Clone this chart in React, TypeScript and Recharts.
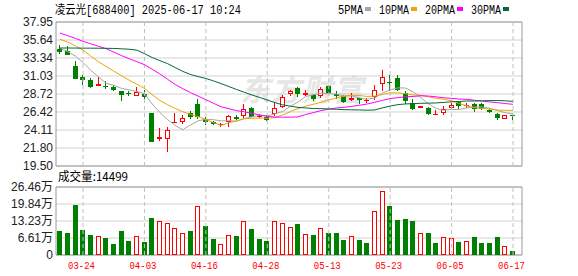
import React from 'react';
import {
  ComposedChart,
  Bar,
  Line,
  XAxis,
  YAxis,
  CartesianGrid,
  ReferenceArea,
  ReferenceLine,
} from 'recharts';

// ---- data (凌云光 688400, daily) ----
const dates = [
  '03-19', '03-20', '03-21', '03-24', '03-25', '03-26', '03-27', '03-28', '03-31', '04-01',
  '04-02', '04-03', '04-07', '04-08', '04-09', '04-10', '04-11', '04-14', '04-15', '04-16',
  '04-17', '04-18', '04-21', '04-22', '04-23', '04-24', '04-25', '04-28', '04-29', '04-30',
  '05-06', '05-07', '05-08', '05-09', '05-12', '05-13', '05-14', '05-15', '05-16', '05-19',
  '05-20', '05-21', '05-22', '05-23', '05-26', '05-27', '05-28', '05-29', '05-30', '06-03',
  '06-04', '06-05', '06-06', '06-09', '06-10', '06-11', '06-12', '06-13', '06-16', '06-17',
];

const open = [
  34.53, 34.27, 32.35, 30.86, 30.52, 29.71, 29.79, 29.66, 29.07, 28.85,
  28.51, 28.73, 26.25, 22.96, 22.96, 25.05, 25.10, 26.25, 27.44, 25.52,
  25.10, 24.72, 25.14, 25.82, 25.87, 26.93, 25.78, 25.82, 26.16, 27.06,
  28.76, 29.49, 28.64, 28.64, 28.43, 29.75, 28.73, 28.43, 27.96, 28.17,
  27.87, 28.34, 30.01, 30.22, 30.78, 28.85, 27.57, 26.93, 26.93, 26.16,
  26.25, 26.93, 27.66, 27.15, 27.44, 27.44, 26.68, 26.16, 25.48, 26.03,
];
const high = [
  35.04, 34.84, 32.91, 31.16, 30.78, 30.87, 30.35, 29.92, 29.15, 29.15,
  29.58, 29.29, 26.30, 24.37, 24.54, 26.25, 26.03, 26.51, 28.12, 25.74,
  25.31, 25.01, 25.99, 25.99, 27.48, 27.06, 26.16, 25.99, 27.57, 28.64,
  29.24, 29.66, 29.28, 28.76, 29.66, 29.92, 29.07, 28.64, 28.81, 28.21,
  28.21, 29.92, 31.84, 31.16, 31.20, 29.15, 28.08, 27.19, 27.02, 26.71,
  27.15, 27.57, 27.79, 27.57, 27.53, 27.57, 26.77, 26.25, 25.99, 26.05,
];
const low = [
  33.89, 33.70, 30.65, 29.84, 29.49, 29.70, 29.40, 29.15, 27.87, 28.51,
  28.50, 28.10, 22.60, 22.74, 21.29, 25.00, 24.88, 25.56, 25.56, 24.72,
  24.79, 24.54, 24.50, 25.43, 25.65, 25.74, 25.65, 25.23, 25.87, 26.93,
  28.43, 28.38, 28.43, 27.79, 28.25, 28.76, 28.12, 27.53, 27.79, 27.48,
  27.57, 28.00, 29.07, 29.11, 29.07, 27.44, 26.68, 26.93, 26.07, 26.16,
  26.07, 26.71, 26.80, 26.93, 26.38, 26.68, 26.33, 25.45, 25.48, 25.40,
];
const close = [
  34.11, 33.76, 30.69, 30.56, 29.66, 30.01, 29.64, 29.28, 28.64, 28.69,
  28.94, 28.34, 22.63, 23.22, 24.11, 25.18, 25.61, 25.74, 25.82, 25.10,
  24.88, 24.84, 25.87, 25.56, 26.84, 25.82, 25.91, 25.43, 26.93, 28.30,
  29.15, 28.76, 28.85, 28.08, 29.33, 28.85, 28.47, 27.66, 28.17, 27.96,
  28.00, 29.24, 30.87, 30.17, 29.28, 27.87, 26.80, 27.19, 26.20, 26.22,
  26.80, 27.32, 27.15, 27.28, 26.80, 26.80, 26.42, 25.65, 25.99, 25.95,
];

const ma5 = [
  34.58, 34.17, 33.59, 32.76, 31.76, 30.94, 30.11, 29.83, 29.45, 29.25,
  29.04, 28.78, 27.45, 26.36, 25.45, 24.70, 24.15, 24.77, 25.29, 25.49,
  25.43, 25.28, 25.30, 25.25, 25.60, 25.79, 26.00, 25.91, 26.19, 26.48,
  27.14, 27.71, 28.40, 28.63, 28.83, 28.77, 28.72, 28.48, 28.50, 28.22,
  28.05, 28.21, 28.85, 29.25, 29.51, 29.49, 29.00, 28.26, 27.47, 26.86,
  26.64, 26.75, 26.74, 26.95, 27.07, 27.07, 26.89, 26.59, 26.33, 26.16,
];
const ma10 = [
  35.73, 35.39, 34.88, 34.36, 33.59, 32.86, 32.25, 31.65, 31.08, 30.50,
  29.99, 29.45, 28.64, 27.91, 27.35, 26.87, 26.46, 26.11, 25.83, 25.47,
  25.06, 24.71, 25.04, 25.27, 25.54, 25.61, 25.64, 25.61, 25.72, 26.04,
  26.47, 26.86, 27.16, 27.41, 27.66, 27.96, 28.22, 28.44, 28.56, 28.53,
  28.41, 28.46, 28.66, 28.87, 28.87, 28.77, 28.60, 28.56, 28.36, 28.18,
  28.06, 27.87, 27.50, 27.21, 26.96, 26.86, 26.82, 26.66, 26.64, 26.62,
];
const ma20 = [
  36.54, 36.20, 35.85, 35.48, 35.15, 34.85, 34.53, 34.10, 33.65, 33.25,
  32.87, 32.48, 31.90, 31.30, 30.62, 29.95, 29.40, 28.90, 28.45, 27.99,
  27.53, 27.08, 26.84, 26.59, 26.45, 26.24, 26.05, 25.86, 25.77, 25.75,
  25.76, 25.79, 26.10, 26.34, 26.60, 26.78, 26.93, 27.02, 27.14, 27.28,
  27.44, 27.66, 27.91, 28.14, 28.26, 28.36, 28.41, 28.50, 28.46, 28.36,
  28.24, 28.17, 28.08, 28.04, 27.92, 27.81, 27.71, 27.61, 27.50, 27.40,
];
const ma30 = [
  34.62, 34.62, 34.61, 34.60, 34.60, 34.59, 34.58, 34.56, 34.52, 34.46,
  34.35, 33.90, 33.40, 33.00, 32.62, 32.12, 31.62, 31.22, 30.95, 30.72,
  30.40, 30.05, 29.68, 29.30, 28.95, 28.60, 28.28, 27.95, 27.62, 27.34,
  27.17, 27.01, 26.94, 26.86, 26.85, 26.81, 26.77, 26.72, 26.70, 26.68,
  26.65, 26.68, 26.95, 27.18, 27.36, 27.45, 27.49, 27.53, 27.55, 27.58,
  27.65, 27.73, 27.77, 27.83, 27.83, 27.86, 27.88, 27.89, 27.85, 27.78,
];

// 成交量 (hands)
const volume = [
  93400, 85600, 194600, 97300, 77800, 73900, 66100, 42800, 93400, 54500,
  73900, 50600, 144000, 131000, 123000, 105000, 85600, 93400, 190700, 112800,
  62300, 41600, 76600, 73900, 131000, 101200, 62300, 54500, 131000, 123300,
  109000, 120600, 80500, 77800, 105000, 85600, 85600, 58400, 73900, 58400,
  46700, 171200, 249000, 190700, 136200, 140000, 132300, 84400, 85600, 46700,
  70000, 66100, 50600, 54500, 70000, 46700, 46700, 70000, 35000, 14499,
];
// 1 = red (up) volume bar, 0 = green
const volUp = [
  0, 0, 0, 0, 0, 1, 0, 0, 0, 0,
  1, 0, 0, 1, 1, 1, 1, 0, 1, 0,
  0, 1, 1, 0, 1, 0, 0, 0, 1, 1,
  1, 0, 1, 0, 1, 0, 0, 0, 1, 0,
  0, 1, 1, 0, 0, 0, 0, 1, 0, 0,
  1, 1, 0, 1, 0, 0, 0, 0, 1, 0,
];

const priceTicks = [19.5, 21.8, 24.11, 26.42, 28.72, 31.03, 33.34, 35.64, 37.95];
const volTicks = [0, 66100, 132300, 198400, 264600];
const xTickLabels = ['03-24', '04-03', '04-16', '04-28', '05-13', '05-23', '06-05', '06-17'];

const legendItems = [
  { label: '5PMA', color: '#a6a6a6' },
  { label: '10PMA', color: '#f0a30a' },
  { label: '20PMA', color: '#ff00ff' },
  { label: '30PMA', color: '#006b32' },
];

// ---- styles ----
const RED = '#ff0000';
const GREEN = '#008000';
const GRID = '#d2d2d2';
const VGRID = '#c0c0c0';
const BORDER = '#9a9a9a';
const X_DOMAIN: [number, number] = [-0.52, 60.17];
const W = 578;
const tickFont = { fontSize: 12, fill: '#222', fontFamily: "'Liberation Sans', Arial, 'Noto Sans CJK SC', sans-serif" };

const xTicks = xTickLabels.map((d) => dates.indexOf(d));

const data = dates.map((d, i) => ({
  i,
  date: d,
  o: open[i],
  h: high[i],
  l: low[i],
  c: close[i],
  range: [low[i], high[i]],
  ma5: ma5[i],
  ma10: ma10[i],
  ma20: ma20[i],
  ma30: ma30[i],
  v: volume[i],
  up: volUp[i] === 1,
}));

function Candle(props: any) {
  const { x, y, width, height, payload } = props;
  if (x == null || y == null || !payload) return null;
  const { o, h, l, c } = payload;
  const span = h - l || 1;
  const toY = (v: number) => y + ((h - v) / span) * height;
  const cx = Math.floor(x + width / 2);
  const hy = Math.round(toY(h));
  const ly = Math.round(toY(l));
  const top = Math.round(toY(Math.max(o, c)));
  let bot = Math.round(toY(Math.min(o, c)));
  if (bot - top < 1) bot = top + 1;

  if (c < o) {
    return (
      <g>
        <line x1={cx + 0.5} x2={cx + 0.5} y1={hy} y2={Math.max(ly, bot)} stroke={GREEN} />
        <rect x={cx - 2} y={top} width={5} height={bot - top} fill={GREEN} />
      </g>
    );
  }
  if (bot - top < 3) {
    return (
      <g>
        <line x1={cx + 0.5} x2={cx + 0.5} y1={hy} y2={Math.max(ly, bot)} stroke={RED} />
        <rect x={cx - 2} y={top} width={5} height={bot - top} fill={RED} />
      </g>
    );
  }
  return (
    <g>
      <line x1={cx + 0.5} x2={cx + 0.5} y1={hy} y2={top} stroke={RED} />
      <line x1={cx + 0.5} x2={cx + 0.5} y1={bot} y2={ly} stroke={RED} />
      <rect x={cx - 1.5} y={top + 0.5} width={4} height={bot - top - 1} fill="#fff" stroke={RED} />
    </g>
  );
}

function VolBar(props: any) {
  const { x, y, width, height, payload } = props;
  if (x == null || y == null || !payload) return null;
  const cx = Math.floor(x + width / 2);
  const bottom = Math.round(y + height);
  const top = Math.round(y);
  if (payload.up && bottom - top >= 3) {
    return <rect x={cx - 1.5} y={top + 0.5} width={4} height={bottom - top - 1} fill="#fff" stroke={RED} />;
  }
  return <rect x={cx - 2} y={top} width={5} height={Math.max(1, bottom - top)} fill={payload.up ? RED : GREEN} />;
}

function DateTick(props: any) {
  const { x, y, payload } = props;
  return (
    <text
      x={x - 1.5}
      y={y + 14}
      textAnchor="middle"
      fontSize={11}
      fill={RED}
      fontFamily="'Liberation Mono', 'DejaVu Sans Mono', monospace"
      textLength={27}
      lengthAdjust="spacingAndGlyphs"
    >
      {dates[payload.value]}
    </text>
  );
}

const fmtVol = (v: number) => (v === 0 ? '0' : `${(v / 10000).toFixed(2)}万`);

export default function App() {
  const legendX = [338, 379, 425, 471];
  const legendW = [25, 30, 30, 30];

  return (
    <div style={{ position: 'absolute', left: 0, top: 0, width: W, height: 276, background: '#fff', overflow: 'hidden' }}>
      {/* watermark */}
      <div
        style={{
          position: 'absolute',
          left: 240,
          top: 66,
          fontSize: 30,
          fontWeight: 700,
          color: '#e6e6e6',
          fontFamily: "'Noto Sans CJK SC', sans-serif",
          letterSpacing: 1,
          fontStyle: 'italic',
        }}
      >
        东方财富
      </div>

      {/* title, legend, volume caption */}
      <svg width={W} height={276} style={{ position: 'absolute', left: 0, top: 0 }}>
        <text
          x={55}
          y={13.5}
          fontSize={12}
          fill="#000"
          fontFamily="'Liberation Mono', 'Noto Sans CJK SC', monospace"
          textLength={186}
          lengthAdjust="spacingAndGlyphs"
        >
          凌云光[688400] 2025-06-17 10:24
        </text>
        {legendItems.map((it, k) => (
          <g key={it.label}>
            <text
              x={legendX[k]}
              y={13.5}
              fontSize={12}
              fill="#000"
              fontFamily="'Liberation Mono', monospace"
              textLength={legendW[k]}
              lengthAdjust="spacingAndGlyphs"
            >
              {it.label}
            </text>
            <rect x={legendX[k] + legendW[k] + 2} y={7} width={6} height={4} fill={it.color} />
          </g>
        ))}
        <text
          x={58}
          y={181}
          fontSize={12}
          fill="#000"
          fontFamily="'Noto Sans CJK SC', 'Liberation Mono', sans-serif"
          textLength={70}
          lengthAdjust="spacingAndGlyphs"
        >
          成交量:{volume[volume.length - 1]}
        </text>
      </svg>

      {/* price chart */}
      <div style={{ position: 'absolute', left: 0, top: 0 }}>
        <ComposedChart width={W} height={176} data={data} margin={{ top: 22, right: 56, bottom: 10, left: 0 }}>
          <CartesianGrid vertical={false} stroke={GRID} />
          <XAxis
            dataKey="i"
            type="number"
            domain={X_DOMAIN}
            allowDataOverflow
            ticks={xTicks}
            interval={0}
            tick={false}
            axisLine={false}
            tickLine={false}
            height={0}
          />
          <YAxis
            type="number"
            domain={[19.5, 37.95]}
            ticks={priceTicks}
            interval={0}
            allowDataOverflow
            width={56}
            tickSize={0}
            tickMargin={3}
            axisLine={false}
            tickLine={false}
            tick={tickFont}
            tickFormatter={(v: number) => v.toFixed(2)}
          />
          {xTicks.map((t) => (
            <ReferenceLine key={`p${t}`} x={t} stroke={VGRID} strokeDasharray="4 3" />
          ))}
          <ReferenceArea x1={X_DOMAIN[0]} x2={X_DOMAIN[1]} y1={19.5} y2={37.95} fill="none" stroke={BORDER} />
          <Bar dataKey="range" barSize={5} shape={<Candle />} isAnimationActive={false} />
          <Line type="linear" dataKey="ma5" stroke="#a6a6a6" strokeWidth={1} dot={false} activeDot={false} isAnimationActive={false} />
          <Line type="linear" dataKey="ma10" stroke="#f0a30a" strokeWidth={1} dot={false} activeDot={false} isAnimationActive={false} />
          <Line type="linear" dataKey="ma20" stroke="#ff00ff" strokeWidth={1} dot={false} activeDot={false} isAnimationActive={false} />
          <Line type="linear" dataKey="ma30" stroke="#006b32" strokeWidth={1} dot={false} activeDot={false} isAnimationActive={false} />
        </ComposedChart>
      </div>

      {/* volume chart */}
      <div style={{ position: 'absolute', left: 0, top: 176 }}>
        <ComposedChart width={W} height={100} data={data} margin={{ top: 11, right: 56, bottom: 0, left: 0 }}>
          <CartesianGrid vertical={false} stroke={GRID} />
          <XAxis
            dataKey="i"
            type="number"
            domain={X_DOMAIN}
            allowDataOverflow
            ticks={xTicks}
            interval={0}
            height={21}
            tickSize={0}
            tickMargin={0}
            axisLine={false}
            tickLine={false}
            tick={<DateTick />}
          />
          <YAxis
            type="number"
            domain={[0, 264600]}
            ticks={volTicks}
            interval={0}
            allowDataOverflow
            width={56}
            tickSize={0}
            tickMargin={3}
            axisLine={false}
            tickLine={false}
            tick={tickFont}
            tickFormatter={fmtVol}
          />
          {xTicks.map((t) => (
            <ReferenceLine key={`v${t}`} x={t} stroke={VGRID} strokeDasharray="4 3" />
          ))}
          <ReferenceArea x1={X_DOMAIN[0]} x2={X_DOMAIN[1]} y1={0} y2={264600} fill="none" stroke={BORDER} />
          <Bar dataKey="v" barSize={5} shape={<VolBar />} isAnimationActive={false} />
        </ComposedChart>
      </div>
    </div>
  );
}
